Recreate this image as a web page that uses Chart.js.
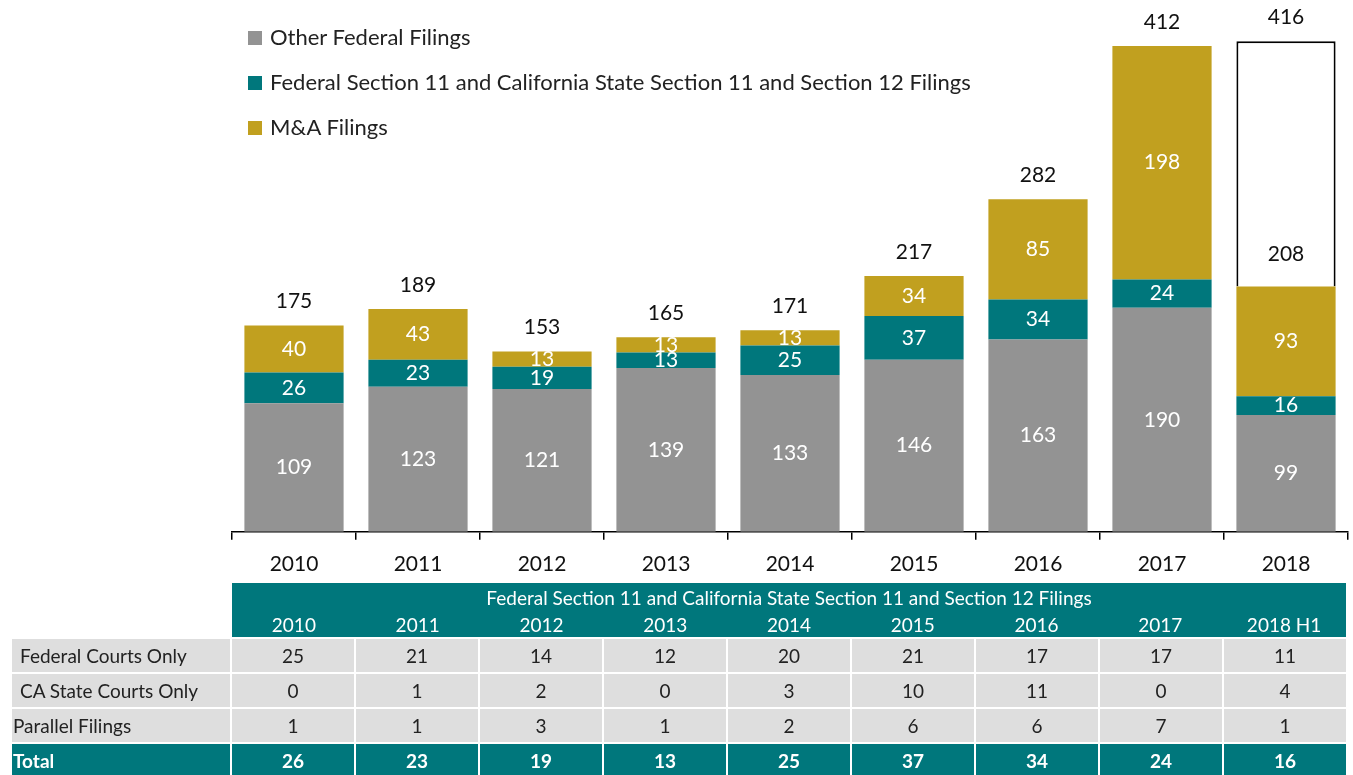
<!DOCTYPE html>
<html>
<head>
<meta charset="utf-8">
<script src="https://cdn.jsdelivr.net/npm/chart.js@4/dist/chart.umd.min.js"></script>
<style>
  body { margin: 0; background: #fff; font-family: Lato, "Noto Sans", sans-serif; }
  #wrap { position: relative; width: 1353px; height: 775px; overflow: hidden; }
  #chartBox { position: absolute; left: 0; top: 0; width: 1353px; height: 589px; }
  #legend { position: absolute; left: 248px; top: 23px; font-size: 22px; color: #222; }
  #legend div { height: 45px; display: flex; align-items: flex-start; }
  #legend span.sw { width: 14px; height: 14px; margin: 8px 8px 0 0; display: inline-block; }
  #tbl { position: absolute; left: 12px; top: 583px; display: grid;
         grid-template-columns: 218px repeat(9, 122px); column-gap: 2px; row-gap: 2px; font-size: 19px; }
  #tbl .hd { grid-column: 2 / span 9; background: #00777c; color: #fff; height: 54px; }
  #tbl .hd .title { text-align: center; height: 29px; line-height: 30px; }
  #tbl .hd .yrs { display: grid; grid-template-columns: repeat(9, 1fr); text-align: center; line-height: 26px; }
  #tbl .c { height: 33px; line-height: 33px; background: #dedede; color: #222; text-align: center; }
  #tbl .lbl { text-align: left; }
  #tbl .tot { background: #00777c; color: #fff; font-weight: bold; }
</style>
</head>
<body>
<div id="wrap">
  <div id="chartBox"><canvas id="chart"></canvas></div>
  <div id="legend"></div>
  <div id="tbl"></div>
</div>
<script>
// Chart data
const years = ["2010", "2011", "2012", "2013", "2014", "2015", "2016", "2017", "2018"];
const otherFederal = [109, 123, 121, 139, 133, 146, 163, 190, 99];
const section11 = [26, 23, 19, 13, 25, 37, 34, 24, 16];
const mnaFilings = [40, 43, 13, 13, 13, 34, 85, 198, 93];
const projected = [null, null, null, null, null, null, null, null, 208];
const totals = [175, 189, 153, 165, 171, 217, 282, 412, 416];

// Table data
const tableTitle = "Federal Section 11 and California State Section 11 and Section 12 Filings";
const tableYears = ["2010", "2011", "2012", "2013", "2014", "2015", "2016", "2017", "2018 H1"];
const federalOnly = [25, 21, 14, 12, 20, 21, 17, 17, 11];
const caStateOnly = [0, 1, 2, 0, 3, 10, 11, 0, 4];
const parallelFilings = [1, 1, 3, 1, 2, 6, 6, 7, 1];
const tableTotal = [26, 23, 19, 13, 25, 37, 34, 24, 16];

const GRAY = "#939393";
const TEAL = "#00777c";
const GOLD = "#c1a01f";
const FONT = "Lato, 'Noto Sans', sans-serif";

// Legend
const legendItems = [
  ["Other Federal Filings", GRAY],
  ["Federal Section 11 and California State Section 11 and Section 12 Filings", TEAL],
  ["M&A Filings", GOLD],
];
const legendEl = document.getElementById("legend");
legendItems.forEach(([text, color]) => {
  const row = document.createElement("div");
  row.innerHTML = `<span class="sw" style="background:${color}"></span><span>${text.replace("&", "&amp;")}</span>`;
  legendEl.appendChild(row);
});

// Value labels drawn on the bars
const labelPlugin = {
  id: "labels",
  afterDatasetsDraw(chart) {
    const ctx = chart.ctx;
    const yScale = chart.scales.y;
    ctx.save();
    ctx.textAlign = "center";
    ctx.textBaseline = "middle";
    ctx.font = "21px " + FONT;
    chart.data.datasets.forEach((ds, i) => {
      const meta = chart.getDatasetMeta(i);
      meta.data.forEach((bar, j) => {
        const v = ds.data[j];
        if (v == null) return;
        if (i === 3) {
          ctx.fillStyle = "#111";
          ctx.fillText(v, bar.x, bar.base - 32);
        } else {
          ctx.fillStyle = "#fff";
          ctx.fillText(v, bar.x, (bar.y + bar.base) / 2);
        }
      });
    });
    // totals above the stacks
    const meta0 = chart.getDatasetMeta(0);
    ctx.fillStyle = "#111";
    totals.forEach((t, j) => {
      const x = meta0.data[j].x;
      ctx.fillText(t, x, yScale.getPixelForValue(t) - 24);
    });
    ctx.restore();
  },
};

new Chart(document.getElementById("chart"), {
  type: "bar",
  data: {
    labels: years,
    datasets: [
      { label: "Other Federal Filings", data: otherFederal, backgroundColor: GRAY },
      { label: "Federal Section 11 and California State Section 11 and Section 12 Filings", data: section11, backgroundColor: TEAL },
      { label: "M&A Filings", data: mnaFilings, backgroundColor: GOLD },
      { label: "Projected", data: projected, backgroundColor: "#fff", borderColor: "#000", borderWidth: 2 },
    ],
  },
  options: {
    responsive: true,
    maintainAspectRatio: false,
    animation: false,
    layout: { padding: { left: 232, right: 5, top: 0, bottom: 0 } },
    datasets: { bar: { barPercentage: 0.8, categoryPercentage: 1 } },
    plugins: { legend: { display: false }, tooltip: { enabled: false } },
    scales: {
      x: {
        stacked: true,
        border: { color: "#000", width: 1.5 },
        grid: { offset: true, drawOnChartArea: false, tickLength: 8, color: "#000", lineWidth: 1.5 },
        ticks: { color: "#111", font: { size: 21, family: FONT }, padding: 12 },
      },
      y: { stacked: true, display: false, min: 0, max: 451 },
    },
  },
  plugins: [labelPlugin],
});

// Table below the chart
const tbl = document.getElementById("tbl");
function cell(html, cls) {
  const d = document.createElement("div");
  d.className = cls;
  d.innerHTML = html;
  tbl.appendChild(d);
  return d;
}
cell("", "");
cell(`<div class="title">${tableTitle}</div><div class="yrs">${tableYears.map(y => `<span>${y}</span>`).join("")}</div>`, "hd");
const rows = [
  ["Federal Courts Only", federalOnly, "", 8],
  ["CA State Courts Only", caStateOnly, "", 8],
  ["Parallel Filings", parallelFilings, "", 1],
  ["Total", tableTotal, " tot", 1],
];
rows.forEach(([name, vals, extra, indent]) => {
  const l = cell(name, "c lbl" + extra);
  l.style.paddingLeft = indent + "px";
  vals.forEach(v => cell(v, "c" + extra));
});
</script>
</body>
</html>
